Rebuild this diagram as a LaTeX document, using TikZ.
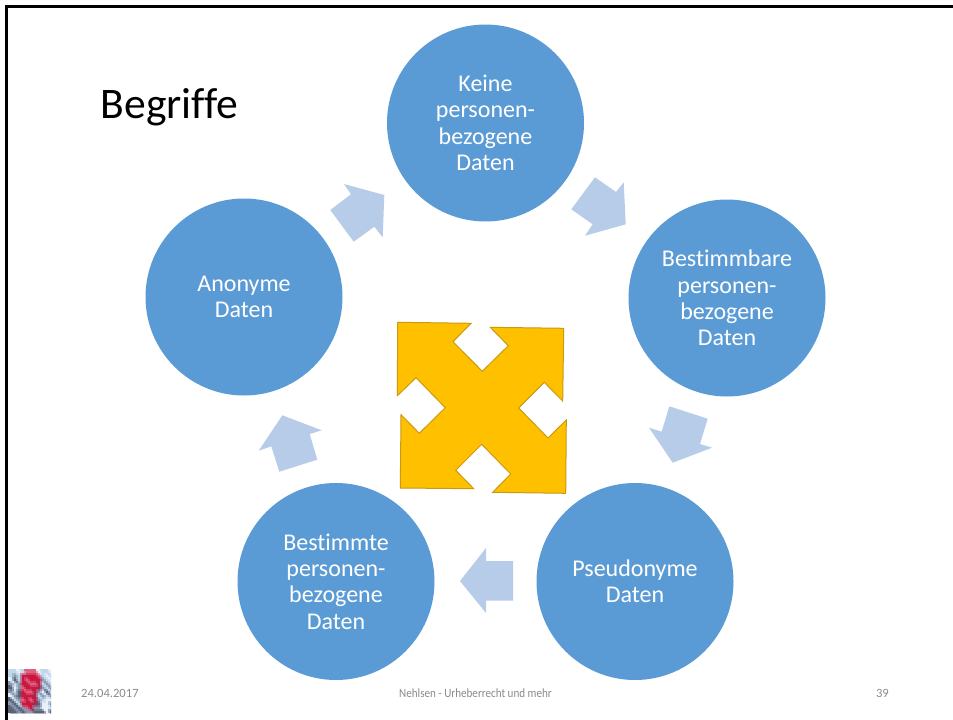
\documentclass[tikz,border=0pt]{standalone}
\usepackage{fontspec}
\usepackage{graphicx}
\setmainfont[Ligatures=NoCommon]{Carlito}
\definecolor{circblue}{HTML}{5B9BD5}
\definecolor{arrowblue}{HTML}{B7CCE8}
\definecolor{staryellow}{HTML}{FFC000}
\definecolor{staredge}{HTML}{C99A12}
\definecolor{footgrey}{HTML}{8B8B8B}
\definecolor{logoW}{HTML}{E8F0F8}
\definecolor{logoL}{HTML}{BFD8EE}
\definecolor{logoG}{HTML}{8A98B0}
\definecolor{logoD}{HTML}{5A6478}
\definecolor{logoR}{HTML}{C81840}
\definecolor{logoP}{HTML}{E06080}
\definecolor{logoM}{HTML}{A02850}
\tikzset{
  circ/.style={circle,fill=circblue,minimum size=197pt,inner sep=0pt,text=white,align=center,
    font=\fontsize{24}{26.4}\selectfont},
  blockarrow/.style={fill=arrowblue,draw=none},
  foot/.style={text=footgrey,font=\fontsize{12.6}{14}\selectfont,inner sep=0pt},
  frameline/.style={fill=black,draw=none}
}
\newcommand{\logorows}{0/{logoL,logoL,logoW,logoL,logoP,logoP,logoP,logoW,logoL,logoL,logoW},
  1/{logoL,logoG,logoL,logoR,logoR,logoR,logoR,logoP,logoL,logoW,logoL},
  2/{logoW,logoD,logoL,logoR,logoP,logoR,logoR,logoR,logoG,logoL,logoW},
  3/{logoG,logoL,logoG,logoR,logoR,logoP,logoP,logoR,logoL,logoG,logoL},
  4/{logoD,logoW,logoG,logoP,logoR,logoR,logoR,logoM,logoG,logoL,logoG},
  5/{logoG,logoL,logoD,logoR,logoP,logoP,logoR,logoG,logoW,logoD,logoL},
  6/{logoW,logoG,logoD,logoR,logoR,logoR,logoM,logoL,logoG,logoL,logoG},
  7/{logoD,logoL,logoG,logoP,logoR,logoP,logoR,logoG,logoL,logoW,logoW},
  8/{logoG,logoD,logoL,logoR,logoR,logoR,logoM,logoD,logoW,logoW,logoG},
  9/{logoD,logoG,logoD,logoG,logoP,logoR,logoG,logoG,logoW,logoW,logoL},
  10/{logoD,logoD,logoG,logoD,logoG,logoG,logoD,logoD,logoD,logoW,logoD}}
\begin{document}
\begin{tikzpicture}[x=1pt,y=-1pt]
\useasboundingbox (0,0) rectangle (953,720);
\fill[white] (0,0) rectangle (953,720);
% slide frame
\fill[frameline] (5,5) rectangle (953,8.4);
\fill[frameline] (5,5) rectangle (8.2,720);
% circles
\node[circ] (keine) at (485.5,123) {Keine\\personen-\\bezogene\\Daten};
\node[circ] (bestimmbar) at (727,298) {Bestimmbare\\personen-\\bezogene\\Daten};
\node[circ] (pseudo) at (635,581.5) {Pseudonyme\\Daten};
\node[circ] (bestimmt) at (336,581.5) {Bestimmte\\personen-\\bezogene\\Daten};
\node[circ] (anonym) at (244,297) {Anonyme\\Daten};
% title
\node[anchor=base west,inner sep=0pt,font=\fontsize{43.6}{48}\selectfont] (title) at (100.5,118.5) {Begriffe};
% block arrows
\fill[blockarrow] (344,184) -- (384.3,195) -- (382.7,237.3) -- (374.3,226.7) -- (353.7,241.7) -- (330.3,210) -- (351,194.3) -- cycle;
\fill[blockarrow] (595,177.3) -- (616,192) -- (623.7,182.3) -- (625.7,224.3) -- (585,235.7) -- (592.7,224.3) -- (571.3,209.3) -- cycle;
\fill[blockarrow] (669.3,406.3) -- (707.7,418.7) -- (700,444) -- (712,447.7) -- (672.7,462.7) -- (649,427.7) -- (661.7,431.7) -- cycle;
\fill[blockarrow] (460,581) -- (486,548) -- (486,561) -- (513,561) -- (513,600.5) -- (486,600.5) -- (486,613) -- cycle;
\fill[blockarrow] (282.3,415.3) -- (321.7,430.3) -- (309.7,434) -- (317.3,459.7) -- (279.3,471.7) -- (271.3,446.3) -- (258.7,450.7) -- cycle;
% centre four-way arrow
\filldraw[fill=staryellow,draw=staredge,line width=1pt,line join=miter]
  (397.7,322.3) -- (471,323.3) -- (453,341.7) -- (482.3,371.3) -- (508.3,345.7) -- (490.3,327.3)
  -- (563.7,328.3) -- (562.7,401) -- (544.3,382.3) -- (518.7,408) -- (548,438) -- (566.3,420)
  -- (565.7,493.3) -- (492.7,492.3) -- (510.7,474) -- (481.7,444.3) -- (455.7,470.3) -- (473.7,488.7)
  -- (400.3,488) -- (401,414.7) -- (419.3,433.3) -- (445.3,407.7) -- (416,377.7) -- (397.3,395.7) -- cycle;
% logo
\begin{scope}
  \clip (8.2,669) rectangle (51,713);
  \foreach \r/\row in \logorows {
    \foreach[count=\i from 0] \c in \row {
      \fill[\c] ({8+4*\i},{669+4*\r}) rectangle +(4.1,4.1);
    }
  }
  \foreach \r/\row in \logorows {
    \foreach[count=\i from 0] \c in \row {
      \fill[\c,opacity=.5] ({10+4*\i},{671+4*\r}) rectangle +(4.1,4.1);
    }
  }
\end{scope}
% footer
\node[foot,anchor=base west] (date) at (81,697) {24.04.2017};
\node[foot,anchor=base west] (mid) at (399,697) {\scalebox{.88}[1]{Nehlsen - Urheberrecht und mehr}};
\node[foot,anchor=base east] (num) at (889,697) {39};
\end{tikzpicture}
\end{document}
